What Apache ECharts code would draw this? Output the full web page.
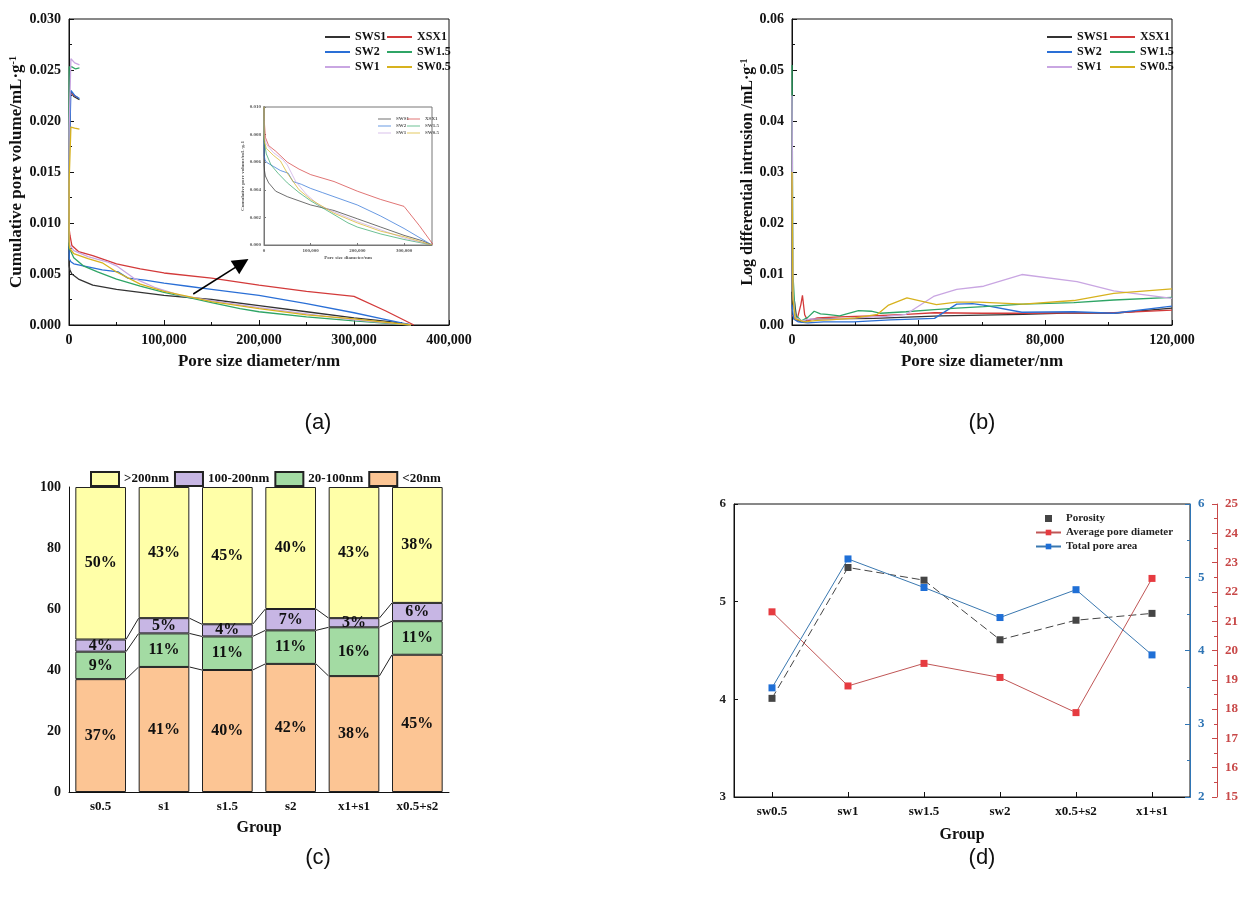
<!DOCTYPE html>
<html>
<head>
<meta charset="utf-8">
<script src="https://cdn.jsdelivr.net/npm/echarts@6/dist/echarts.min.js"></script>
<style>
  html, body { margin: 0; padding: 0; background: #fff; }
  #main { width: 1246px; height: 911px; }
</style>
</head>
<body>
<div id="main"></div>
<script>
var FONT = '"Liberation Serif", "Times New Roman", serif';

// (a) cumulative pore volume, [diameter nm, mL/g]
var aSWS1 = [[11000,0.0221],[5000,0.0224],[1500,0.0229],[200,0.0229],[100,0.017],[60,0.009],[150,0.0058],[1000,0.0054],[3000,0.0050],[10000,0.0045],[25000,0.0039],[50000,0.0035],[75000,0.0032],[100000,0.0029],[150000,0.0025],[200000,0.0019],[250000,0.0013],[300000,0.0007],[340000,0.0003],[360000,0]];
var aXSX1 = [[9000,0.0223],[4000,0.0226],[1000,0.0228],[200,0.0228],[100,0.016],[60,0.0095],[1000,0.0088],[3000,0.0078],[10000,0.0072],[25000,0.0068],[50000,0.0060],[75000,0.0055],[100000,0.0051],[150000,0.0046],[200000,0.0039],[250000,0.0033],[300000,0.0028],[333000,0.0014],[363000,0]];
var aSW2 = [[11000,0.0222],[6000,0.0225],[2000,0.0230],[200,0.0230],[100,0.016],[60,0.009],[300,0.0065],[2000,0.0062],[5000,0.0060],[20000,0.0057],[35000,0.0054],[52000,0.0052],[62000,0.0046],[80000,0.0044],[100000,0.0041],[125000,0.0038],[150000,0.0035],[200000,0.0029],[250000,0.0021],[300000,0.0012],[330000,0.0006],[360000,0]];
var aSW15 = [[11000,0.0252],[7000,0.0251],[3000,0.0253],[200,0.0253],[100,0.018],[60,0.010],[300,0.0075],[2000,0.0072],[5000,0.0066],[15000,0.0058],[30000,0.0052],[50000,0.0045],[75000,0.0038],[100000,0.0032],[130000,0.0026],[150000,0.0022],[180000,0.0016],[200000,0.0013],[250000,0.0008],[300000,0.0004],[360000,0]];
var aSW1 = [[11000,0.0255],[6000,0.0257],[2000,0.0261],[200,0.0262],[100,0.019],[60,0.011],[300,0.0082],[1000,0.0078],[5000,0.0073],[20000,0.0067],[40000,0.0062],[50000,0.0058],[68000,0.0046],[90000,0.0037],[117000,0.0029],[150000,0.0024],[200000,0.0017],[250000,0.0011],[300000,0.0005],[360000,0]];
var aSW05 = [[11000,0.0192],[6000,0.0193],[2000,0.0194],[200,0.0194],[100,0.014],[60,0.009],[300,0.0078],[1000,0.0075],[5000,0.0070],[20000,0.0065],[35000,0.0061],[50000,0.0052],[75000,0.0040],[100000,0.0033],[130000,0.0027],[150000,0.0023],[200000,0.0016],[250000,0.0010],[300000,0.0006],[360000,0]];

// (b) log differential intrusion, [diameter nm, mL/g]
var bSWS1 = [[0,0.0065],[200,0.003],[700,0.005],[1500,0.001],[3000,0.0006],[6000,0.0011],[12000,0.0012],[26000,0.0013],[47000,0.0018],[73000,0.0021],[89000,0.0024],[101600,0.0023],[120000,0.0033]];
var bXSX1 = [[0,0.002],[1500,0.0008],[2800,0.004],[3300,0.0058],[4000,0.002],[5000,0.0008],[8000,0.0014],[15000,0.0016],[25000,0.0018],[36000,0.0021],[45000,0.0024],[60000,0.0023],[73000,0.0023],[89000,0.0024],[101600,0.0024],[120000,0.0029]];
var bSW2 = [[0,0.004],[500,0.0012],[2000,0.0006],[5000,0.0004],[10000,0.0006],[19500,0.0006],[31000,0.0010],[45000,0.0013],[52000,0.0041],[57000,0.0042],[60500,0.0039],[72600,0.0025],[89000,0.0026],[101600,0.0023],[120000,0.0037]];
var bSW15 = [[0,0.051],[300,0.010],[1000,0.002],[3000,0.0008],[5000,0.0015],[7000,0.0027],[9000,0.0022],[11000,0.0021],[15000,0.0018],[21000,0.0028],[25000,0.0027],[28000,0.0023],[36000,0.0026],[45000,0.0030],[52000,0.0033],[60500,0.0036],[73000,0.0041],[89000,0.0044],[101600,0.0049],[120000,0.0054]];
var bSW1 = [[0,0.045],[300,0.006],[1000,0.0015],[3000,0.0008],[6000,0.0012],[10000,0.0011],[20000,0.0014],[30000,0.0017],[36000,0.0021],[44700,0.0056],[52000,0.0070],[60500,0.0076],[72600,0.0099],[90000,0.0085],[101600,0.0067],[120000,0.0052]];
var bSW05 = [[0,0.030],[300,0.005],[1000,0.0012],[4000,0.0006],[8000,0.0009],[12000,0.0010],[20000,0.0014],[27000,0.0021],[30500,0.0039],[36300,0.0053],[45600,0.0040],[52000,0.0045],[59000,0.0045],[73000,0.0041],[89000,0.0048],[101600,0.0062],[120000,0.0071]];

// (c) pore size distribution (%)
var cGroups = ['s0.5', 's1', 's1.5', 's2', 'x1+s1', 'x0.5+s2'];
var cLt20 = [37, 41, 40, 42, 38, 45];
var c20to100 = [9, 11, 11, 11, 16, 11];
var c100to200 = [4, 5, 4, 7, 3, 6];
var cGt200 = [50, 43, 45, 40, 43, 38];

// (d) porosity / pore diameter / pore area
var dGroups = ['sw0.5', 'sw1', 'sw1.5', 'sw2', 'x0.5+s2', 'x1+s1'];
var dPorosity = [4.01, 5.35, 5.22, 4.61, 4.81, 4.88];
var dAvgDiameter = [21.32, 18.79, 19.56, 19.08, 17.88, 22.46];
var dPoreArea = [3.49, 5.25, 4.86, 4.45, 4.83, 3.94];

var names = ['SWS1', 'XSX1', 'SW2', 'SW1.5', 'SW1', 'SW0.5'];
var colors = ['#333333', '#d33a3a', '#2a6fd6', '#2fa566', '#c9a6e2', '#d7b21e'];
var aData = [aSWS1, aXSX1, aSW2, aSW15, aSW1, aSW05];
var bData = [bSWS1, bXSX1, bSW2, bSW15, bSW1, bSW05];

function commaFmt(v) { return v === 0 ? '0' : v.toLocaleString('en-US'); }

function txt(size, color) {
    return { fontFamily: FONT, fontWeight: 'bold', fontSize: size, color: color || '#111' };
}

// 连接线：相邻柱子同一分界
var lvl1 = [], lvl2 = [], lvl3 = [];
for (var i = 0; i < cGroups.length; i++) {
    lvl1.push(cLt20[i]);
    lvl2.push(cLt20[i] + c20to100[i]);
    lvl3.push(cLt20[i] + c20to100[i] + c100to200[i]);
}
var connData = [];
for (var i = 0; i < cGroups.length - 1; i++) {
    connData.push([i, lvl1[i], lvl1[i + 1]]);
    connData.push([i, lvl2[i], lvl2[i + 1]]);
    connData.push([i, lvl3[i], lvl3[i + 1]]);
}

var valAxisBase = function (gi, extra) {
    var o = {
        type: 'value', gridIndex: gi,
        axisLine: { show: true, lineStyle: { color: '#111', width: 1 } },
        axisTick: { show: true, inside: true, length: 5, lineStyle: { color: '#111' } },
        minorTick: { show: true, splitNumber: 2, length: 3, lineStyle: { color: '#111' } },
        splitLine: { show: false },
        axisLabel: txt(14)
    };
    for (var k in extra) o[k] = extra[k];
    return o;
};

var series = [];
// (a) main + inset
for (var s = 0; s < names.length; s++) {
    series.push({
        name: names[s], type: 'line', xAxisIndex: 0, yAxisIndex: 0,
        data: aData[s], showSymbol: false, symbol: 'none', clip: true,
        lineStyle: { color: colors[s], width: 1.3 }, itemStyle: { color: colors[s] },
        markLine: s === 0 ? {
            silent: true, symbol: ['none', 'triangle'], symbolSize: 16,
            label: { show: false },
            lineStyle: { color: '#000', width: 1.5, type: 'solid' },
            data: [[{ coord: [130800, 0.00304] }, { coord: [181800, 0.00605] }]]
        } : undefined
    });
}
for (var s = 0; s < names.length; s++) {
    series.push({
        name: names[s], type: 'line', xAxisIndex: 1, yAxisIndex: 1,
        data: aData[s], showSymbol: false, symbol: 'none', clip: true,
        lineStyle: { color: colors[s], width: 1, opacity: 0.7 }, itemStyle: { color: colors[s] }
    });
}
// (b)
for (var s = 0; s < names.length; s++) {
    series.push({
        name: names[s], type: 'line', xAxisIndex: 2, yAxisIndex: 2,
        data: bData[s], showSymbol: false, symbol: 'none', clip: true,
        lineStyle: { color: colors[s], width: 1.3 }, itemStyle: { color: colors[s] }
    });
}
// (c)
var cSeries = [
    { name: '<20nm', data: cLt20, color: '#fcc594' },
    { name: '20-100nm', data: c20to100, color: '#a3dba3' },
    { name: '100-200nm', data: c100to200, color: '#c7b6e4' },
    { name: '>200nm', data: cGt200, color: '#ffffa8' }
];
cSeries.forEach(function (cs) {
    series.push({
        name: cs.name, type: 'bar', stack: 'c', xAxisIndex: 3, yAxisIndex: 3,
        data: cs.data, barCategoryGap: '20%',
        itemStyle: { color: cs.color, borderColor: '#222', borderWidth: 1 },
        label: {
            show: true, position: 'inside', fontFamily: FONT, fontWeight: 'bold', fontSize: 16, color: '#111',
            formatter: function (p) { return p.value + '%'; }
        }
    });
});
series.push({
    type: 'custom', xAxisIndex: 3, yAxisIndex: 3, silent: true, z: 5,
    data: connData,
    encode: { x: 0, y: [1, 2] },
    renderItem: function (params, api) {
        var idx = api.value(0);
        var p0 = api.coord([idx, api.value(1)]);
        var p1 = api.coord([idx + 1, api.value(2)]);
        var half = api.size([1, 0])[0] * 0.4;
        return {
            type: 'line',
            shape: { x1: p0[0] + half, y1: p0[1], x2: p1[0] - half, y2: p1[1] },
            style: { stroke: '#222', lineWidth: 1 }
        };
    }
});
// (d)
series.push({
    name: 'Porosity', type: 'line', xAxisIndex: 4, yAxisIndex: 4, data: dPorosity,
    symbol: 'rect', symbolSize: 7,
    itemStyle: { color: '#454545' }, lineStyle: { color: '#454545', width: 1, type: [8, 4] }
});
series.push({
    name: 'Average pore diameter', type: 'line', xAxisIndex: 4, yAxisIndex: 6, data: dAvgDiameter,
    symbol: 'rect', symbolSize: 7,
    itemStyle: { color: '#e63b40' }, lineStyle: { color: '#c05656', width: 1 }
});
series.push({
    name: 'Total pore area', type: 'line', xAxisIndex: 4, yAxisIndex: 5, data: dPoreArea,
    symbol: 'rect', symbolSize: 7,
    itemStyle: { color: '#1f6fd6' }, lineStyle: { color: '#3a78b0', width: 1 }
});

var legendTxt = { fontFamily: FONT, fontWeight: 'bold', fontSize: 12, color: '#111', lineHeight: 12 };
var tinyTxt = { fontFamily: FONT, fontWeight: 'bold', fontSize: 5, color: '#555', lineHeight: 6 };
var lineIcon = 'rect';

var option = {
    animation: false,
    backgroundColor: '#fff',
    grid: [
        { left: 69, top: 19, width: 380, height: 306, show: true, borderColor: '#111', borderWidth: 1 },
        { left: 264, top: 107, width: 168, height: 138, show: true, borderColor: '#777', borderWidth: 1 },
        { left: 792, top: 19, width: 380, height: 306, show: true, borderColor: '#111', borderWidth: 1 },
        { left: 69, top: 487, width: 380, height: 305 },
        { left: 734, top: 504, width: 456, height: 293, show: true, borderColor: '#111', borderWidth: 1 }
    ],
    legend: [
        { data: ['SWS1', 'SW2', 'SW1'], icon: lineIcon, orient: 'vertical', left: 320, top: 26, itemWidth: 25, itemHeight: 2, itemGap: 3, textStyle: legendTxt, selectedMode: false },
        { data: ['XSX1', 'SW1.5', 'SW0.5'], icon: lineIcon, orient: 'vertical', left: 382, top: 26, itemWidth: 25, itemHeight: 2, itemGap: 3, textStyle: legendTxt, selectedMode: false },
        { data: ['SWS1', 'SW2', 'SW1'], icon: lineIcon, orient: 'vertical', left: 373, top: 111, itemWidth: 13, itemHeight: 1, itemGap: 1, textStyle: tinyTxt, selectedMode: false, itemStyle: { opacity: 0.7 } },
        { data: ['XSX1', 'SW1.5', 'SW0.5'], icon: lineIcon, orient: 'vertical', left: 402, top: 111, itemWidth: 13, itemHeight: 1, itemGap: 1, textStyle: tinyTxt, selectedMode: false, itemStyle: { opacity: 0.7 } },
        { data: ['SWS1', 'SW2', 'SW1'], icon: lineIcon, orient: 'vertical', left: 1042, top: 26, itemWidth: 25, itemHeight: 2, itemGap: 3, textStyle: legendTxt, selectedMode: false },
        { data: ['XSX1', 'SW1.5', 'SW0.5'], icon: lineIcon, orient: 'vertical', left: 1105, top: 26, itemWidth: 25, itemHeight: 2, itemGap: 3, textStyle: legendTxt, selectedMode: false },
        { data: ['>200nm', '100-200nm', '20-100nm', '<20nm'], icon: 'rect', left: 85, top: 466, itemWidth: 28, itemHeight: 14, itemGap: 5, textStyle: txt(13), selectedMode: false },
        {
            data: [{ name: 'Porosity', icon: 'path://M0,0L10,0L10,10L0,10Z' }, 'Average pore diameter', 'Total pore area'],
            orient: 'vertical', left: 1030, top: 508, itemWidth: 25, itemHeight: 7, itemGap: 3, symbolKeepAspect: true,
            textStyle: { fontFamily: FONT, fontWeight: 'bold', fontSize: 11, color: '#222', lineHeight: 11 }, selectedMode: false
        }
    ],
    xAxis: [
        valAxisBase(0, {
            min: 0, max: 400000, interval: 100000,
            name: 'Pore size diameter/nm', nameLocation: 'middle', nameGap: 28, nameTextStyle: txt(17),
            axisLabel: { fontFamily: FONT, fontWeight: 'bold', fontSize: 14, color: '#111', formatter: commaFmt }
        }),
        valAxisBase(1, {
            min: 0, max: 360000, interval: 100000,
            axisLine: { show: true, lineStyle: { color: '#777', width: 1 } },
            axisTick: { show: true, inside: true, length: 2, lineStyle: { color: '#777' } },
            minorTick: { show: false },
            name: 'Pore size diameter/nm', nameLocation: 'middle', nameGap: 10, nameTextStyle: tinyTxt,
            axisLabel: { fontFamily: FONT, fontWeight: 'bold', fontSize: 5, color: '#555', margin: 3, showMaxLabel: false, formatter: commaFmt }
        }),
        valAxisBase(2, {
            min: 0, max: 120000, interval: 40000,
            name: 'Pore size diameter/nm', nameLocation: 'middle', nameGap: 28, nameTextStyle: txt(17),
            axisLabel: { fontFamily: FONT, fontWeight: 'bold', fontSize: 14, color: '#111', formatter: commaFmt }
        }),
        {
            type: 'category', gridIndex: 3, data: cGroups,
            axisLine: { lineStyle: { color: '#111' } },
            axisTick: { show: false },
            axisLabel: txt(13),
            name: 'Group', nameLocation: 'middle', nameGap: 28, nameTextStyle: txt(16)
        },
        {
            type: 'category', gridIndex: 4, data: dGroups,
            axisLine: { lineStyle: { color: '#111' } },
            axisTick: { show: true, inside: true, alignWithLabel: true, length: 5, lineStyle: { color: '#111' } },
            axisLabel: txt(13),
            name: 'Group', nameLocation: 'middle', nameGap: 30, nameTextStyle: txt(16)
        }
    ],
    yAxis: [
        valAxisBase(0, {
            min: 0, max: 0.030, interval: 0.005,
            name: 'Cumulative pore volume/mL·g{s|-1}', nameLocation: 'middle', nameGap: 42,
            nameTextStyle: { fontFamily: FONT, fontWeight: 'bold', fontSize: 17, color: '#111', rich: { s: { fontFamily: FONT, fontWeight: 'bold', fontSize: 10, verticalAlign: 'top', color: '#111' } } },
            axisLabel: { fontFamily: FONT, fontWeight: 'bold', fontSize: 14, color: '#111', formatter: function (v) { return v.toFixed(3); } }
        }),
        valAxisBase(1, {
            min: 0, max: 0.010, interval: 0.002,
            axisLine: { show: true, lineStyle: { color: '#777', width: 1 } },
            axisTick: { show: true, inside: true, length: 2, lineStyle: { color: '#777' } },
            minorTick: { show: false },
            name: 'Cumulative pore volume/mL·g-1', nameLocation: 'middle', nameGap: 14, nameTextStyle: tinyTxt,
            axisLabel: { fontFamily: FONT, fontWeight: 'bold', fontSize: 5, color: '#555', margin: 3, formatter: function (v) { return v.toFixed(3); } }
        }),
        valAxisBase(2, {
            min: 0, max: 0.06, interval: 0.01,
            name: 'Log differential intrusion /mL·g{s|-1}', nameLocation: 'middle', nameGap: 36,
            nameTextStyle: { fontFamily: FONT, fontWeight: 'bold', fontSize: 16, color: '#111', rich: { s: { fontFamily: FONT, fontWeight: 'bold', fontSize: 10, verticalAlign: 'top', color: '#111' } } },
            axisLabel: { fontFamily: FONT, fontWeight: 'bold', fontSize: 14, color: '#111', formatter: function (v) { return v.toFixed(2); } }
        }),
        {
            type: 'value', gridIndex: 3, min: 0, max: 100, interval: 20,
            axisLine: { show: true, lineStyle: { color: '#111' } },
            axisTick: { show: false },
            splitLine: { show: false },
            axisLabel: txt(14)
        },
        {
            type: 'value', gridIndex: 4, min: 3, max: 6, interval: 1, position: 'left',
            axisLine: { show: true, lineStyle: { color: '#111' } },
            axisTick: { show: true, inside: true, length: 4, lineStyle: { color: '#111' } },
            splitLine: { show: false },
            axisLabel: txt(13, '#222')
        },
        {
            type: 'value', gridIndex: 4, min: 2, max: 6, interval: 1, position: 'right',
            axisLine: { show: true, lineStyle: { color: '#2f75b5' } },
            axisTick: { show: true, inside: true, length: 5, lineStyle: { color: '#2f75b5' } },
            minorTick: { show: true, splitNumber: 2, length: 3, lineStyle: { color: '#2f75b5' } },
            splitLine: { show: false },
            axisLabel: txt(13, '#2f75b5')
        },
        {
            type: 'value', gridIndex: 4, min: 15, max: 25, interval: 1, position: 'right', offset: 27,
            axisLine: { show: true, lineStyle: { color: '#c84848' } },
            axisTick: { show: true, inside: true, length: 5, lineStyle: { color: '#c84848' } },
            minorTick: { show: true, splitNumber: 2, length: 3, lineStyle: { color: '#c84848' } },
            splitLine: { show: false },
            axisLabel: txt(13, '#c84848')
        }
    ],
    graphic: [
        { type: 'text', x: 318, y: 423, style: { text: '(a)', fontFamily: '"Liberation Sans Narrow", "Liberation Sans", sans-serif', fontSize: 22, fill: '#111', textAlign: 'center', textVerticalAlign: 'middle' } },
        { type: 'text', x: 982, y: 423, style: { text: '(b)', fontFamily: '"Liberation Sans Narrow", "Liberation Sans", sans-serif', fontSize: 22, fill: '#111', textAlign: 'center', textVerticalAlign: 'middle' } },
        { type: 'text', x: 318, y: 858, style: { text: '(c)', fontFamily: '"Liberation Sans Narrow", "Liberation Sans", sans-serif', fontSize: 22, fill: '#111', textAlign: 'center', textVerticalAlign: 'middle' } },
        { type: 'text', x: 982, y: 858, style: { text: '(d)', fontFamily: '"Liberation Sans Narrow", "Liberation Sans", sans-serif', fontSize: 22, fill: '#111', textAlign: 'center', textVerticalAlign: 'middle' } }
    ],
    series: series
};

var myChart = echarts.init(document.getElementById('main'));
myChart.setOption(option);
</script>
</body>
</html>
